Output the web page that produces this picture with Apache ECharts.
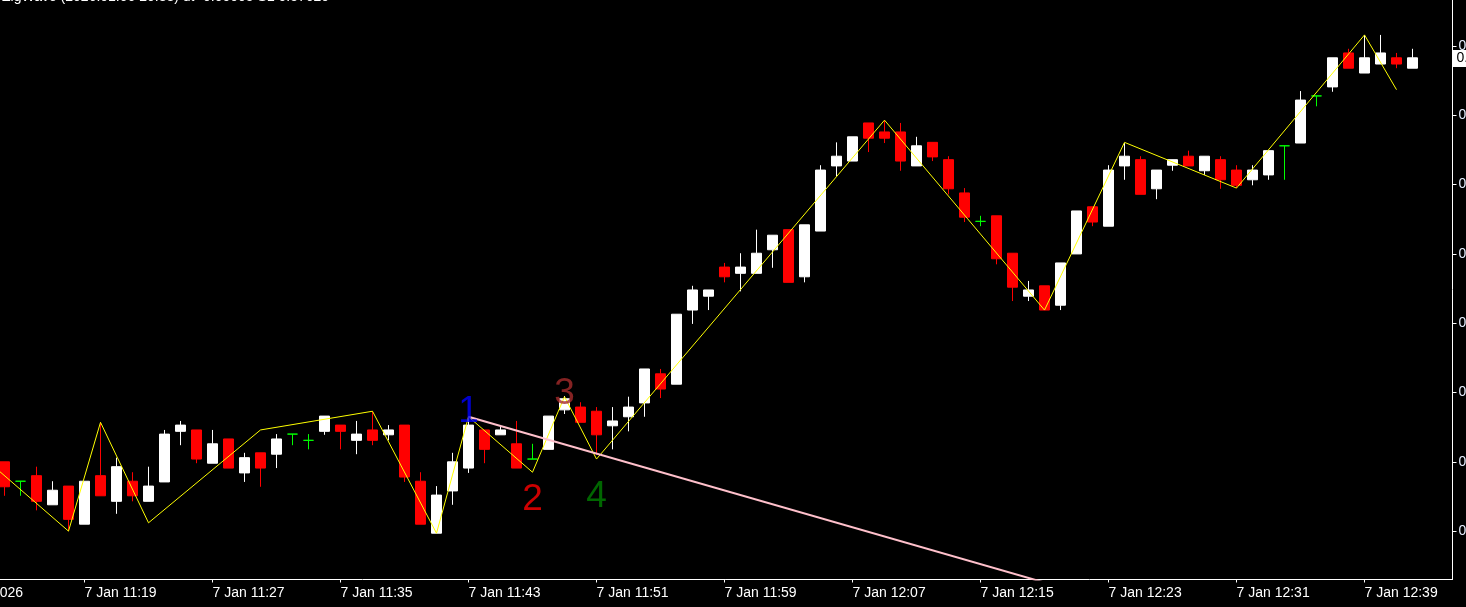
<!DOCTYPE html>
<html>
<head>
<meta charset="utf-8">
<script src="https://cdn.jsdelivr.net/npm/echarts@6/dist/echarts.min.js"></script>
<style>
html,body{margin:0;padding:0;background:#000;}
#chart{width:1466px;height:607px;}
</style>
</head>
<body>
<div id="chart"></div>
<script>
// ---- data (1-minute bars, 7 Jan 11:14 .. 12:42) ----
const firstBarTime = '11:14';
const opens = [
0.575700,0.575672,0.575680,0.575638,0.575665,0.575610,0.575680,0.575643,0.575672,0.575643,
0.575671,0.575744,0.575746,0.575698,0.575733,0.575684,0.575713,0.575711,0.575740,0.575731,
0.575744,0.575753,0.575731,0.575746,0.575739,0.575753,0.575672,0.575597,0.575658,0.575691,
0.575746,0.575739,0.575726,0.575704,0.575718,0.575775,0.575779,0.575773,0.575752,0.575765,
0.575785,0.575827,0.575812,0.575919,0.575939,0.575981,0.575972,0.575972,0.576006,0.576035,
0.575967,0.576033,0.576127,0.576134,0.576189,0.576176,0.576176,0.576127,0.576161,0.576136,
0.576088,0.576047,0.576055,0.576001,0.575939,0.575954,0.575926,0.576000,0.576068,0.576040,
0.576127,0.576136,0.576094,0.576128,0.576141,0.576120,0.576136,0.576121,0.576107,0.576114,
0.576156,0.576160,0.576228,0.576241,0.576290,0.576261,0.576274,0.576283,0.576268
];
const closes = [
0.575664,0.575672,0.575643,0.575659,0.575617,0.575672,0.575651,0.575693,0.575651,0.575665,
0.575740,0.575753,0.575704,0.575726,0.575691,0.575706,0.575691,0.575733,0.575740,0.575731,
0.575766,0.575744,0.575740,0.575731,0.575746,0.575678,0.575610,0.575652,0.575700,0.575753,
0.575718,0.575746,0.575691,0.575704,0.575766,0.575791,0.575757,0.575739,0.575759,0.575779,
0.575834,0.575805,0.575913,0.575948,0.575948,0.575967,0.575981,0.576001,0.576027,0.575959,
0.576042,0.576121,0.576141,0.576169,0.576167,0.576167,0.576134,0.576156,0.576140,0.576094,
0.576053,0.576047,0.575993,0.575952,0.575948,0.575919,0.575987,0.576062,0.576046,0.576121,
0.576141,0.576086,0.576121,0.576136,0.576127,0.576141,0.576107,0.576099,0.576121,0.576149,
0.576156,0.576222,0.576228,0.576283,0.576268,0.576283,0.576290,0.576274,0.576283
];
const lows = [
0.575651,0.575651,0.575630,0.575638,0.575600,0.575610,0.575651,0.575625,0.575643,0.575643,
0.575671,0.575724,0.575698,0.575698,0.575691,0.575671,0.575664,0.575691,0.575724,0.575718,
0.575739,0.575718,0.575711,0.575724,0.575731,0.575671,0.575610,0.575597,0.575638,0.575684,
0.575698,0.575739,0.575691,0.575704,0.575718,0.575769,0.575757,0.575710,0.575718,0.575744,
0.575765,0.575792,0.575812,0.575899,0.575919,0.575959,0.575946,0.575972,0.575980,0.575959,
0.575959,0.576033,0.576112,0.576134,0.576147,0.576160,0.576120,0.576127,0.576134,0.576086,
0.576046,0.576040,0.575985,0.575932,0.575932,0.575919,0.575919,0.576000,0.576040,0.576040,
0.576107,0.576086,0.576079,0.576120,0.576127,0.576114,0.576094,0.576095,0.576099,0.576107,
0.576107,0.576160,0.576213,0.576234,0.576268,0.576261,0.576274,0.576268,0.576268
];
const highs = [
0.575700,0.575672,0.575693,0.575672,0.575665,0.575672,0.575757,0.575706,0.575685,0.575693,
0.575746,0.575759,0.575746,0.575746,0.575733,0.575713,0.575713,0.575740,0.575740,0.575740,
0.575766,0.575753,0.575759,0.575773,0.575753,0.575753,0.575685,0.575665,0.575713,0.575765,
0.575746,0.575752,0.575759,0.575726,0.575766,0.575795,0.575786,0.575779,0.575779,0.575794,
0.575834,0.575834,0.575913,0.575954,0.575948,0.575987,0.576001,0.576035,0.576027,0.576035,
0.576042,0.576128,0.576161,0.576169,0.576189,0.576193,0.576189,0.576169,0.576161,0.576141,
0.576095,0.576055,0.576055,0.576001,0.575961,0.575954,0.575987,0.576062,0.576068,0.576128,
0.576160,0.576141,0.576121,0.576136,0.576149,0.576141,0.576141,0.576128,0.576128,0.576149,
0.576156,0.576235,0.576228,0.576283,0.576296,0.576316,0.576316,0.576290,0.576296
];

// ZigWave zigzag vertices
const zigzagTimes  = ['11:13','11:18','11:20','11:23','11:30','11:37','11:41','11:43','11:47','11:49','11:51','12:09','12:19','12:24','12:31','12:39','12:41'];
const zigzagPrices = [0.575700,0.575600,0.575757,0.575612,0.575746,0.575773,0.575597,0.575765,0.575685,0.575794,0.575704,0.576193,0.575919,0.576161,0.576095,0.576316,0.576237];

// pink trend line
const trendTimes  = ['11:43','12:42'];
const trendPrices = [0.575765, 0.575373];

// wave labels
const waveLabels = ['1','2','3','4'];
const waveTimes  = ['11:43','11:47','11:49','11:51'];
const wavePrices = [0.575772, 0.575645, 0.575798, 0.575649];
const waveColors = ['#0000ff','#ff0000','#a52a2a','#008000'];

// price axis ticks
const priceTicks = [0.5756,0.5757,0.5758,0.5759,0.5760,0.5761,0.5762,0.5763];
const priceMin = 0.5755302, priceMax = 0.5763664;

const titleText = 'ZigWave (2026.01.06 20:33) dt -0.00005 SL 0.57620';
const dateLabel = '7 Jan 2026';
const datePrefix = '7 Jan ';

// ---- categories: 11:13 .. 12:44 ----
function toMin(t){const p=t.split(':');return (+p[0])*60+(+p[1]);}
function toStr(m){const h=Math.floor(m/60),mm=m%60;return h+':'+(mm<10?'0':'')+mm;}
const startMin = toMin(firstBarTime) - 1;
const nCats = opens.length + 3;
const categories = [];
for (let k=0;k<nCats;k++) categories.push(toStr(startMin+k));

const FONT = 'Liberation Sans';
const candleData = opens.map((o,i)=>{
  const item = {value:[categories[i+1], o, closes[i], lows[i], highs[i]]};
  if (o === closes[i]) item.itemStyle = {color:'#00ff00',color0:'#00ff00',borderColor:'#00ff00',borderColor0:'#00ff00',borderColorDoji:'#00ff00'};
  return item;
});
const lastClose = closes[closes.length-1];

const labelIdx = (idx)=> idx>=6 && (idx-6)%8===0;

const chart = echarts.init(document.getElementById('chart'), null, {renderer:'canvas'});
const baseGraphic = [
  {id:'title', type:'text', left:2, top:-10, style:{text:titleText, fill:'#ffffff', font:'14px "Liberation Sans"'}},
  {id:'date', type:'text', x:23, y:593, style:{text:dateLabel, fill:'#ffffff', font:'14px "Liberation Sans"', align:'right', verticalAlign:'middle'}}
];
chart.setOption({
  backgroundColor:'#000',
  animation:false,
  grid:{left:-19.5, right:13.5, top:0, bottom:27.5, containLabel:false, outerBoundsMode:'none'},
  xAxis:{
    type:'category', data:categories, boundaryGap:true,
    axisLine:{show:true, lineStyle:{color:'#ffffff', width:1}},
    axisTick:{show:true, alignWithLabel:true, interval:labelIdx, length:3, lineStyle:{color:'#ffffff'}},
    axisLabel:{show:true, interval:labelIdx, align:'left', color:'#ffffff', fontFamily:FONT, fontSize:14, margin:7,
      formatter:(v)=>datePrefix+v},
    splitLine:{show:false}
  },
  yAxis:{
    type:'value', position:'right', min:priceMin, max:priceMax, scale:true,
    axisLine:{show:true, lineStyle:{color:'#ffffff', width:1}},
    axisTick:{show:true, length:4, customValues:priceTicks, lineStyle:{color:'#ffffff'}},
    axisLabel:{show:true, customValues:priceTicks, color:'#e6eeff', fontFamily:FONT, fontSize:14, margin:6,
      formatter:(v)=>v.toFixed(5)},
    splitLine:{show:false}
  },
  series:[
    {
      type:'candlestick', data:candleData, encode:{x:0, y:[1,2,3,4]},
      barWidth:10,
      itemStyle:{color:'#ffffff', color0:'#ff0000', borderColor:'#ffffff', borderColor0:'#ff0000', borderColorDoji:'#00ff00', borderWidth:1},
      z:2
    },
    {
      type:'line', data:zigzagTimes.map((t,i)=>[t, zigzagPrices[i]]),
      showSymbol:false, symbol:'none', lineStyle:{color:'#ffff00', width:1}, z:3, silent:true
    },
    {
      type:'line', data:trendTimes.map((t,i)=>[t, trendPrices[i]]),
      showSymbol:false, symbol:'none', lineStyle:{color:'#ffc0cb', width:2}, z:4, silent:true, clip:true
    },
    {
      type:'scatter', symbolSize:0, z:5, silent:true,
      data:waveLabels.map((s,i)=>({name:s, value:[waveTimes[i], wavePrices[i]],
        label:{show:true, position:'inside', formatter:s, color:waveColors[i], fontFamily:FONT, fontSize:37}}))
    }
  ],
  graphic:baseGraphic
});

// current price tag on the price axis, placed through the axis scale
const py = chart.convertToPixel({yAxisIndex:0}, lastClose);
const axisX = chart.getWidth() - 13.5;
chart.setOption({graphic:baseGraphic.concat([
  {id:'pbox', type:'rect', shape:{x:axisX+0.5, y:Math.round(py)-8, width:70, height:17}, style:{fill:'#ffffff'}, z:10},
  {id:'ptxt', type:'text', x:axisX+4, y:Math.round(py)+0.5, style:{text:lastClose.toFixed(5), fill:'#000000', font:'14px "Liberation Sans"', verticalAlign:'middle'}, z:11}
])});
</script>
</body>
</html>
